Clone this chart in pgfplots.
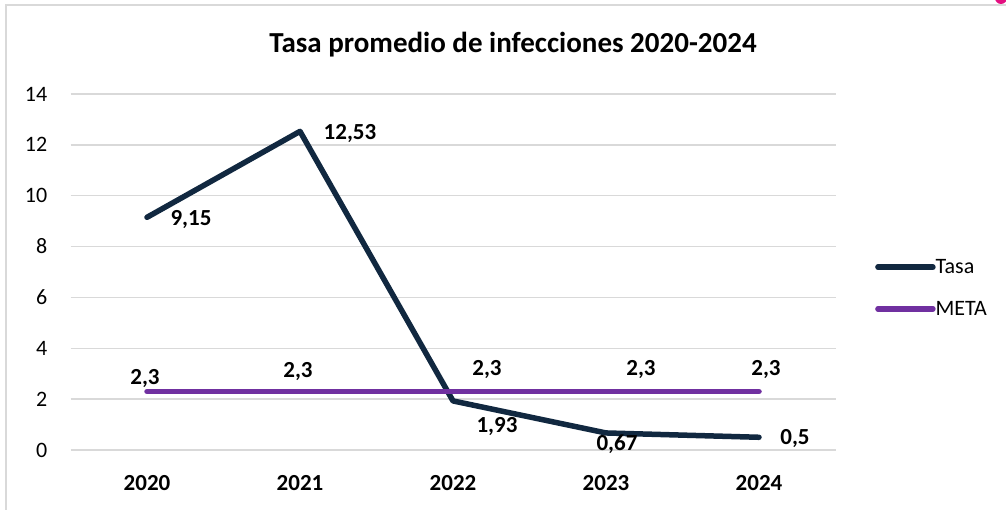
\documentclass[border=0pt]{standalone}
\usepackage{pgfplots}
\pgfplotsset{compat=1.18}
\usepackage{pgfplotstable}
\usepackage{fontspec}
\setmainfont{Carlito}
\definecolor{navy}{RGB}{17,40,64}
\definecolor{metac}{RGB}{112,48,160}
\definecolor{gridc}{RGB}{217,217,217}

\pgfplotstableread{
x y dx dy
0 9.15 44 -2
1 12.53 50 -2
2 1.93 44 -26
3 0.67 11 -11
4 0.5 36 -1
}\tasa
\pgfplotstableread{
x y dx dy
0 2.3 -2 13
1 2.3 -2 20
2 2.3 34 22
3 2.3 35 22
4 2.3 7 22
}\meta

\begin{document}
\begin{tikzpicture}[x=1pt,y=1pt]
\useasboundingbox (0,0) rectangle (1006,510);
\draw[gridc, line width=1.5pt] (6,0) -- (6,505) -- (1006,505);
\fill[magenta!80!purple] (1001,512) circle (6);
\node[font=\bfseries\fontsize{29}{34}\selectfont] at (513,465) {Tasa promedio de infecciones 2020-2024};
\begin{axis}[
  at={(70.5pt,60pt)}, anchor=south west,
  scale only axis, width=765pt, height=356pt,
  xmin=-0.5, xmax=4.5, ymin=0, ymax=14,
  ytick={0,2,...,14}, xtick={0,...,4},
  xticklabels={2020,2021,2022,2023,2024},
  /pgf/number format/assume math mode=true,
  axis line style={draw=none}, tick style={draw=none},
  ymajorgrids, major grid style={gridc, line width=1.5pt},
  yticklabel style={font=\fontsize{22}{26}\selectfont, anchor=east, inner sep=0pt, xshift=-23pt},
  xticklabel style={font=\bfseries\fontsize{23}{28}\selectfont, anchor=north, inner sep=0pt, yshift=-25pt},
  clip=false,
  legend style={draw=none, fill=none, at={(1.0516,0.455)}, anchor=west,
    font=\fontsize{22}{26}\selectfont, inner sep=0pt, row sep=26pt,
    nodes={inner sep=0pt}},
  legend cell align=left,
  legend image code/.code={\draw[#1, line cap=round] (0pt,0pt) -- (55pt,0pt);},
  nodes near coords={\pgfmathprintnumber[use comma, fixed, precision=2]{\pgfplotspointmeta}},
  visualization depends on={\thisrow{dx} \as \dx},
  visualization depends on={\thisrow{dy} \as \dy},
  every node near coord/.append style={font=\bfseries\fontsize{23}{28}\selectfont, text=black, anchor=center, xshift=\dx pt, yshift=\dy pt, inner sep=0pt},
]
\addplot[navy, line width=5.5pt, line cap=round, line join=round, mark=none] table[x=x,y=y] {\tasa};
\addlegendentry{Tasa}
\addplot[metac, line width=5.5pt, line cap=round, mark=none] table[x=x,y=y] {\meta};
\addlegendentry{META}
\end{axis}
\end{tikzpicture}
\end{document}
